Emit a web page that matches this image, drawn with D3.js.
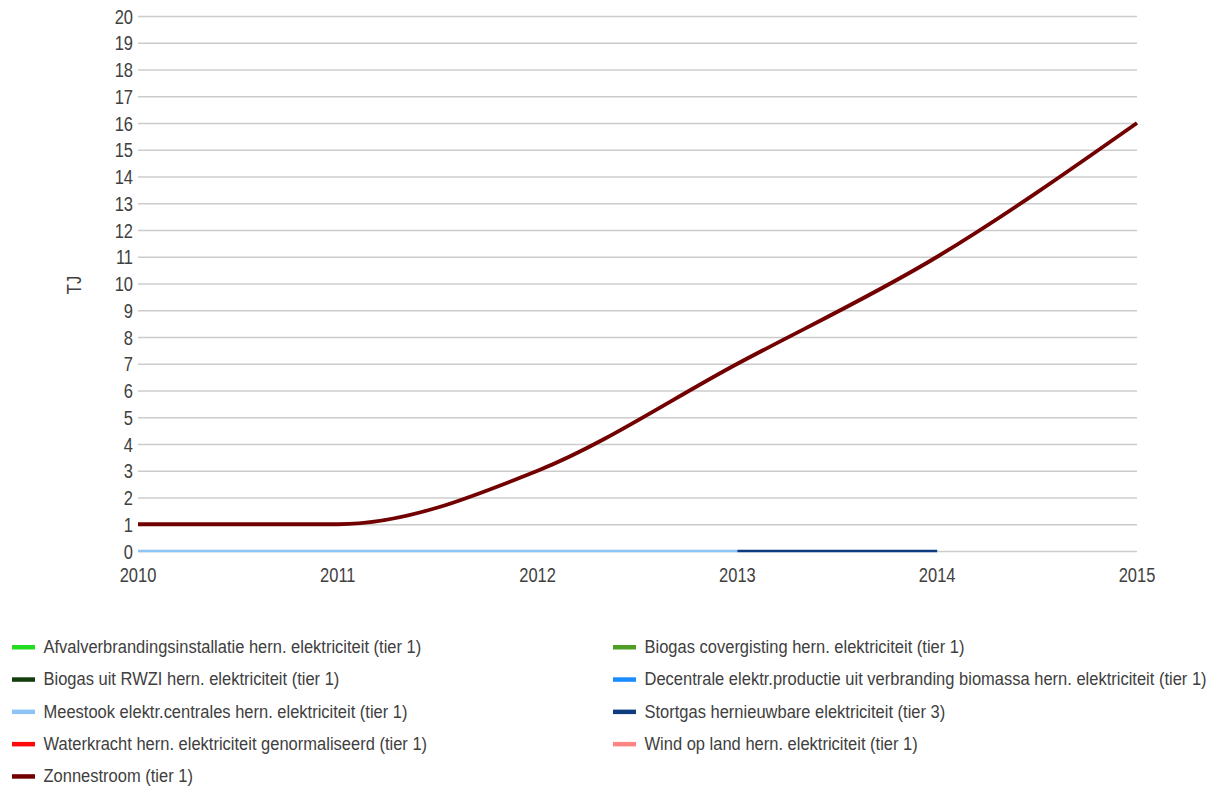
<!DOCTYPE html>
<html><head><meta charset="utf-8">
<script src="https://cdn.jsdelivr.net/npm/d3@7"></script>
<style>body{margin:0;background:#fff}svg{display:block}text{font-family:"Liberation Sans",Arial,sans-serif;fill:#404040}</style>
</head><body><svg id="c" width="1215" height="788"></svg>
<script>
const years = [2010, 2011, 2012, 2013, 2014, 2015];
const yTicks = d3.range(0, 21);
const seriesNames = [
  "Afvalverbrandingsinstallatie hern. elektriciteit (tier 1)",
  "Biogas covergisting hern. elektriciteit (tier 1)",
  "Biogas uit RWZI hern. elektriciteit (tier 1)",
  "Decentrale elektr.productie uit verbranding biomassa hern. elektriciteit (tier 1)",
  "Meestook elektr.centrales hern. elektriciteit (tier 1)",
  "Stortgas hernieuwbare elektriciteit (tier 3)",
  "Waterkracht hern. elektriciteit genormaliseerd (tier 1)",
  "Wind op land hern. elektriciteit (tier 1)",
  "Zonnestroom (tier 1)"
];
const seriesColors = ["#22dd22","#4e9d24","#143d0e","#1a8cff","#8cc4f5","#0d3d80","#ff0a0a","#ff8585","#720000"];
const afval = [null,null,null,null,null,null];
const biogasCo = [null,null,null,null,null,null];
const biogasRwzi = [null,null,null,null,null,null];
const decentrale = [null,null,null,null,null,null];
const meestook = [0,0,0,0,null,null];
const stortgas = [null,null,null,0,0,null];
const waterkracht = [null,null,null,null,null,null];
const wind = [null,null,null,null,null,null];
const zonnestroom = [1,1,3,7,11,16];
const seriesValues = [afval,biogasCo,biogasRwzi,decentrale,meestook,stortgas,waterkracht,wind,zonnestroom];

const svg = d3.select("#c");
const x = d3.scaleLinear().domain([2010,2015]).range([138,1137]);
const y = d3.scaleLinear().domain([0,20]).range([551,16]);
const SY = 1.27;

// grid
svg.append("g").selectAll("line").data(yTicks).join("line")
  .attr("x1",x(2010)).attr("x2",x(2015)).attr("y1",d=>y(d)+0.5).attr("y2",d=>y(d)+0.5)
  .attr("stroke","#cccccc").attr("stroke-width",1.5);

// y labels
svg.append("g").selectAll("text").data(yTicks).join("text")
  .attr("transform",d=>`translate(133,${y(d)+7.5}) scale(1,${SY})`).attr("text-anchor","end")
  .attr("font-size",16.5).text(d=>d);
// x labels
svg.append("g").selectAll("text").data(years).join("text")
  .attr("transform",d=>`translate(${x(d)},581.5) scale(1,${SY})`).attr("text-anchor","middle")
  .attr("font-size",16.5).text(d=>d);
// axis title
svg.append("text").attr("transform",`translate(81,285) rotate(-90) scale(1,${SY})`)
  .attr("text-anchor","middle").attr("font-size",16.5).text("TJ");

// lines
const line = d3.line().defined(d=>d.v!=null).x(d=>x(d.y)).y(d=>y(d.v)).curve(d3.curveMonotoneX);
seriesValues.forEach((vals,i)=>{
  const pts = vals.map((v,j)=>({y:years[j],v}));
  if(!pts.some(p=>p.v!=null)) return;
  svg.append("path").datum(pts).attr("d",line).attr("fill","none")
    .attr("stroke",seriesColors[i]).attr("stroke-width", i===8?3.8:2.5)
    .attr("stroke-linecap","butt");
});

// legend
const leg = svg.append("g");
seriesNames.forEach((n,i)=>{
  const col = i%2, row = Math.floor(i/2);
  const lx = col===0?12:613, ly = 647 + row*32.3;
  leg.append("rect").attr("x",lx).attr("y",ly-2).attr("width",23).attr("height",4.5).attr("fill",seriesColors[i]);
  leg.append("text").attr("transform",`translate(${lx+31.5},${ly+6}) scale(1,1.06)`)
    .attr("font-size",16.5).text(n);
});
</script></body></html>
